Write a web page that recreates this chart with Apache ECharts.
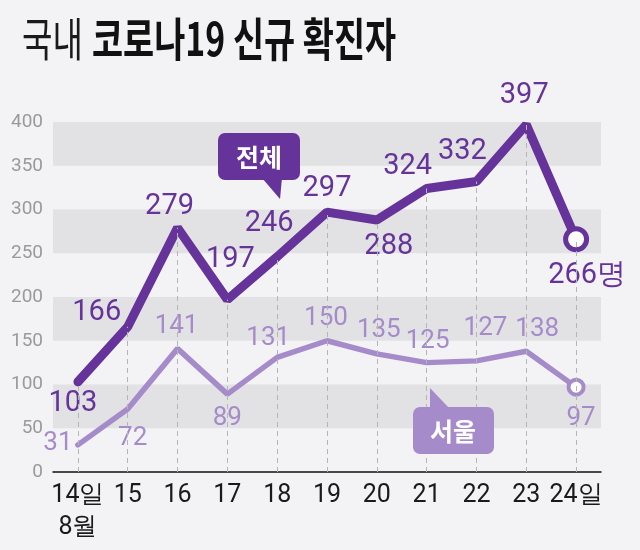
<!DOCTYPE html>
<html>
<head>
<meta charset="utf-8">
<script src="https://cdn.jsdelivr.net/npm/echarts@6/dist/echarts.min.js"></script>
<style>
html,body{margin:0;padding:0;background:#f3f3f5;}
#chart{width:640px;height:550px;}
</style>
</head>
<body>
<div id="chart"></div>
<script>
// ---- data ----
var categories = ['14일\n8월', '15', '16', '17', '18', '19', '20', '21', '22', '23', '24일'];
var totalValues = [103, 166, 279, 197, 246, 297, 288, 324, 332, 397, 266];
var seoulValues = [31, 72, 141, 89, 131, 150, 135, 125, 127, 138, 97];
var yTicks = [0, 50, 100, 150, 200, 250, 300, 350, 400];
var totalName = '전체';
var seoulName = '서울';
var unit = '명';

// ---- label placement (styling) ----
var totalOffsets = [[-5,22],[-31,-14],[-8,-21],[3,-40],[-8,-33],[0,-23],[12,27],[-19,-22],[-14,-30],[-2,-29],[11,36]];
var seoulOffsets = [[-20,-1],[5,29],[-1,-22],[0,24],[-9,-19],[-1,-22],[2,-23],[1,-21],[9,-32],[11,-22],[5,31]];

var DARK = '#66339a';
var LIGHT = '#a68bcb';
var NUMFONT = "Roboto, 'Liberation Sans', sans-serif";

function buildData(values, offsets, color, size, weight, endSize, endBorder, withUnit) {
  var last = values.length - 1;
  return values.map(function (v, i) {
    var isLast = i === last;
    var item = {
      value: v,
      symbol: 'circle',
      symbolSize: isLast ? endSize : 1,
      itemStyle: isLast
        ? { color: '#ffffff', borderColor: color, borderWidth: endBorder }
        : { color: 'rgba(0,0,0,0)', borderWidth: 0 },
      label: {
        show: true,
        position: 'inside',
        offset: offsets[i],
        color: color,
        fontSize: size,
        fontFamily: NUMFONT,
        fontWeight: weight,
        formatter: (withUnit && isLast) ? ('{c}' + unit) : '{c}'
      }
    };
    return item;
  });
}

var dashData = categories.map(function (c, i) {
  return [{ coord: [c, 0] }, { coord: [c, totalValues[i]] }];
});

var chart = echarts.init(document.getElementById('chart'), null, { renderer: 'canvas' });

var option = {
  backgroundColor: '#f3f3f5',
  animation: false,
  grid: { left: 53, right: 39, top: 122, bottom: 78 },
  xAxis: {
    type: 'category',
    data: categories,
    boundaryGap: true,
    axisLine: { show: true, lineStyle: { color: '#111', width: 1.5 } },
    axisTick: { show: false },
    axisLabel: {
      color: '#1a1a1a',
      fontSize: 25,
      fontFamily: NUMFONT,
      margin: 8,
      lineHeight: 32,
      interval: 0
    },
    splitLine: { show: false }
  },
  yAxis: {
    type: 'value',
    min: yTicks[0],
    max: yTicks[yTicks.length - 1],
    interval: yTicks[1] - yTicks[0],
    axisLine: { show: false },
    axisTick: { show: false },
    axisLabel: {
      color: '#9a9a9a',
      fontSize: 19,
      fontFamily: NUMFONT,
      margin: 10
    },
    splitLine: { show: false },
    splitArea: { show: true, areaStyle: { color: ['rgba(0,0,0,0)', '#e2e2e4'] } }
  },
  series: [
    {
      name: 'guides',
      type: 'line',
      data: totalValues,
      symbol: 'none',
      lineStyle: { opacity: 0 },
      silent: true,
      z: 1,
      markLine: {
        silent: true,
        symbol: ['none', 'none'],
        label: { show: false },
        lineStyle: { color: '#b5b5b5', type: [5, 4], width: 1 },
        data: dashData
      }
    },
    {
      name: seoulName,
      type: 'line',
      data: buildData(seoulValues, seoulOffsets, LIGHT, 26, 'normal', 15, 4, false),
      lineStyle: { color: LIGHT, width: 5.5, cap: 'round' },
      z: 3
    },
    {
      name: totalName,
      type: 'line',
      data: buildData(totalValues, totalOffsets, DARK, 29, 'normal', 21, 5, true),
      lineStyle: { color: DARK, width: 9, cap: 'round' },
      z: 4
    }
  ],
  graphic: [
    {
      type: 'text', x: 22, y: 39, scaleX: 0.72, z: 100,
      style: { text: '국내', font: "normal 46px 'Noto Sans CJK KR'", fill: '#1a1a1a', textVerticalAlign: 'middle' }
    },
    {
      type: 'text', x: 92, y: 39, scaleX: 0.735, z: 100,
      style: { text: '코로나19 신규 확진자', font: "bold 46px 'Noto Sans CJK KR'", fill: '#111', textVerticalAlign: 'middle' }
    },
    { type: 'rect', z: 100, shape: { x: 218, y: 133, width: 82, height: 47, r: 7 }, style: { fill: DARK } },
    { type: 'polygon', z: 100, shape: { points: [[262, 178], [282, 178], [280, 199]] }, style: { fill: DARK } },
    { type: 'text', z: 101, x: 259, y: 157, style: { text: totalName, font: "bold 25px 'Noto Sans CJK KR'", fill: '#fff', textAlign: 'center', textVerticalAlign: 'middle' } },
    { type: 'rect', z: 100, shape: { x: 413, y: 407, width: 81, height: 47, r: 7 }, style: { fill: LIGHT } },
    { type: 'polygon', z: 100, shape: { points: [[430, 388], [430, 410], [451, 410]] }, style: { fill: LIGHT } },
    { type: 'text', z: 101, x: 453, y: 431, style: { text: seoulName, font: "bold 25px 'Noto Sans CJK KR'", fill: '#fff', textAlign: 'center', textVerticalAlign: 'middle' } }
  ]
};
chart.setOption(option);
</script>
</body>
</html>
